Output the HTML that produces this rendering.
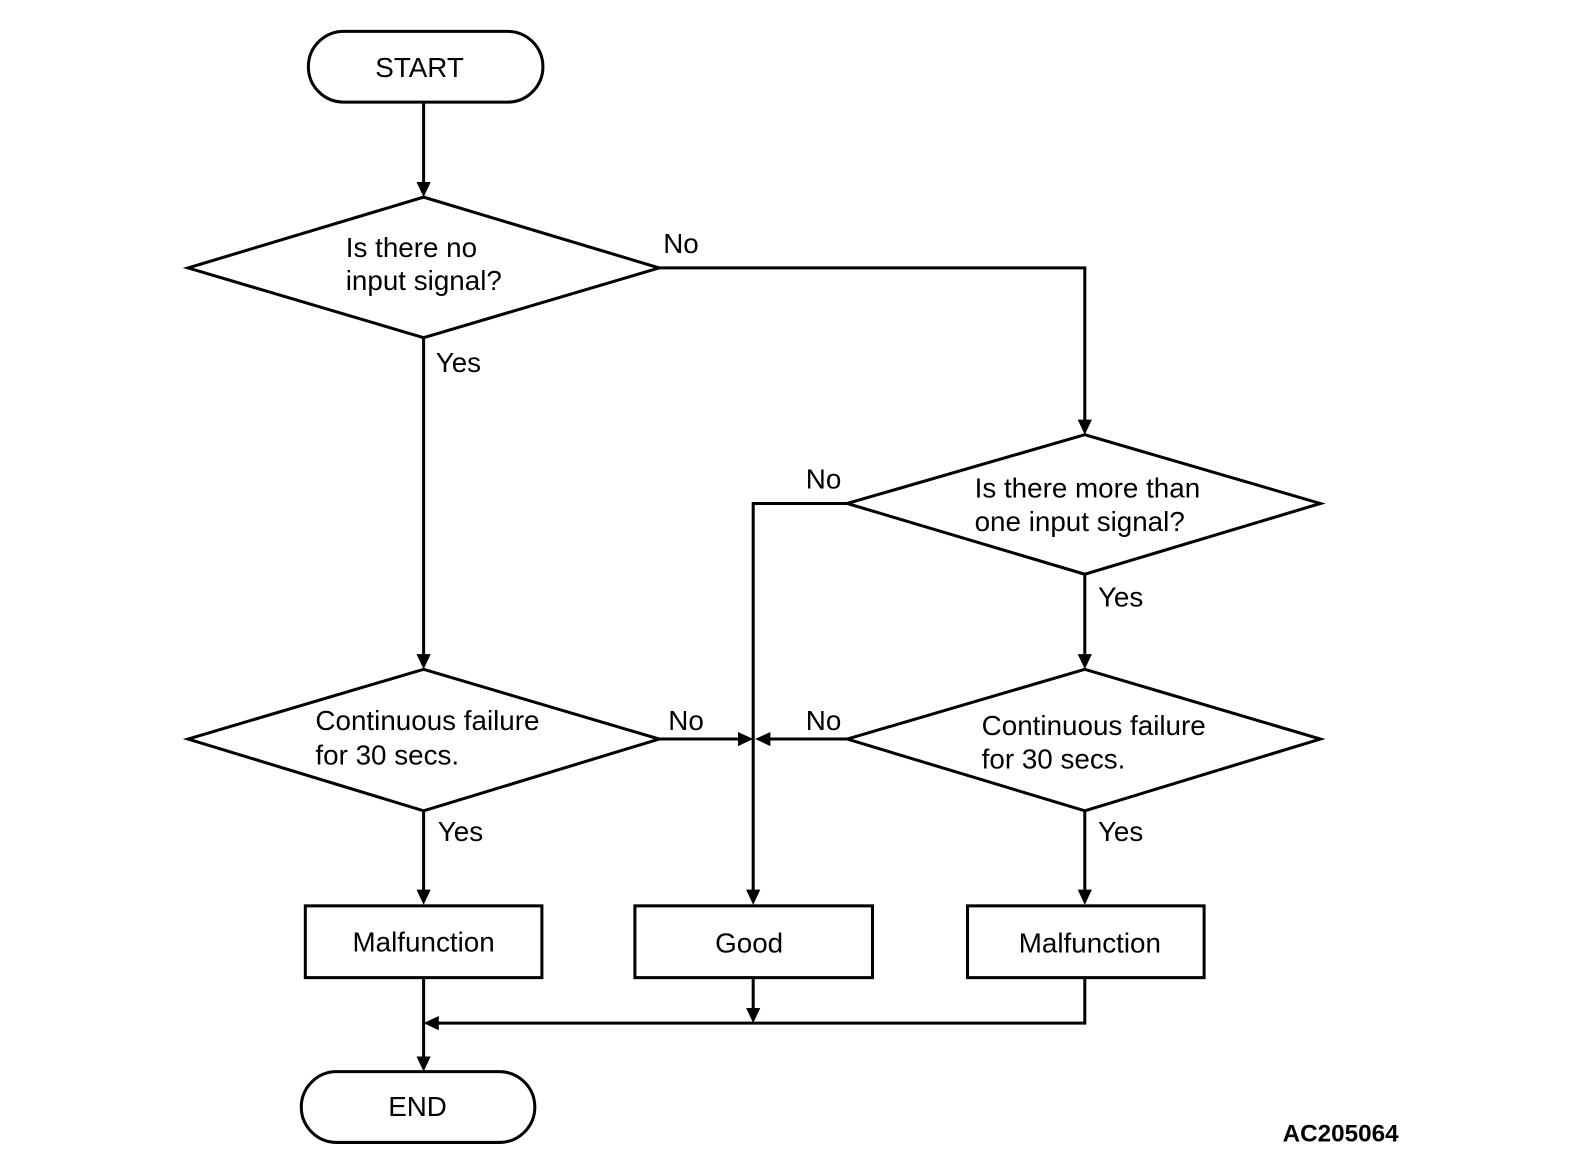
<!DOCTYPE html>
<html><head><meta charset="utf-8"><style>
html,body{margin:0;padding:0;background:#fff;overflow:hidden;}
svg{display:block;}
text{font-family:"Liberation Sans",sans-serif;font-size:27.5px;fill:#000;}
</style></head><body>
<svg width="1584" height="1168" viewBox="0 0 1584 1168" xmlns="http://www.w3.org/2000/svg">
<g transform="scale(1.011)">
<g fill="none" stroke="#000" stroke-width="3">
<rect x="305" y="31" width="232" height="70" rx="35"/>
<rect x="298" y="1060" width="231" height="70" rx="35"/>
<polygon points="186,265 419,195 652,265 419,334"/>
<polygon points="838,498 1073,430 1306,498 1073,568"/>
<polygon points="186,731 419,662 652,731 419,802"/>
<polygon points="838,731 1073,662 1306,731 1073,802"/>
<rect x="302" y="896" width="234" height="71"/>
<rect x="628" y="896" width="235" height="71"/>
<rect x="957" y="896" width="234" height="71"/>
</g>
<g fill="none" stroke="#000" stroke-width="3">
<path d="M419,101 V182"/>
<path d="M652,265 H1073 V417"/>
<path d="M419,334 V649"/>
<path d="M838,498 H745 V882"/>
<path d="M1073,568 V649"/>
<path d="M652,731 H733"/>
<path d="M838,731 H758"/>
<path d="M419,802 V882"/>
<path d="M1073,802 V882"/>
<path d="M419,967 V1047"/>
<path d="M745,967 V1000"/>
<path d="M1073,967 V1012 H432"/>
</g>
<g fill="#000">
<polygon points="419,195 412,180 426,180"/>
<polygon points="1073,430 1066,415 1080,415"/>
<polygon points="419,662 412,647 426,647"/>
<polygon points="745,895 738,880 752,880"/>
<polygon points="1073,662 1066,647 1080,647"/>
<polygon points="745,731 730,724 730,738"/>
<polygon points="747,731 762,724 762,738"/>
<polygon points="419,895 412,880 426,880"/>
<polygon points="1073,895 1066,880 1080,880"/>
<polygon points="419,1060 412,1045 426,1045"/>
<polygon points="745,1012 738,997 752,997"/>
<polygon points="419,1012 434,1005 434,1019"/>
</g>
<text x="415" y="76" text-anchor="middle">START</text>
<text x="413" y="1104" text-anchor="middle">END</text>
<text x="342" y="254">Is there no</text>
<text x="342" y="287">input signal?</text>
<text x="964" y="492">Is there more than</text>
<text x="964" y="525">one input signal?</text>
<text x="312" y="722">Continuous failure</text>
<text x="312" y="756">for 30 secs.</text>
<text x="971" y="727">Continuous failure</text>
<text x="971" y="760">for 30 secs.</text>
<text x="419" y="941" text-anchor="middle">Malfunction</text>
<text x="741" y="942" text-anchor="middle">Good</text>
<text x="1078" y="942" text-anchor="middle">Malfunction</text>
<text x="656" y="250">No</text>
<text x="431" y="368">Yes</text>
<text x="797" y="483">No</text>
<text x="1086" y="600">Yes</text>
<text x="661" y="722">No</text>
<text x="797" y="722">No</text>
<text x="433" y="832">Yes</text>
<text x="1086" y="832">Yes</text>
<text x="1326" y="1129" text-anchor="middle" style="font-weight:bold;font-size:24px">AC205064</text>
</g>
</svg>
</body></html>
